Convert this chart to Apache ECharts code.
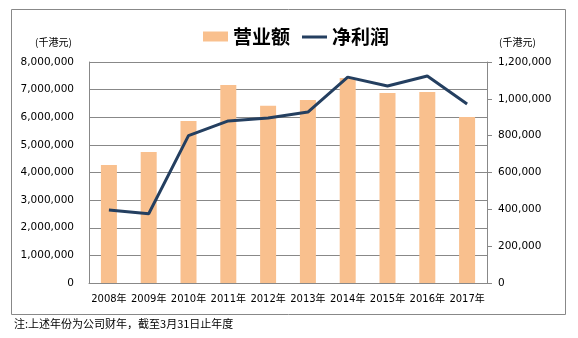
<!DOCTYPE html>
<html><head><meta charset="utf-8">
<script src="https://cdn.jsdelivr.net/npm/echarts@6/dist/echarts.min.js"></script>
<style>html,body{margin:0;padding:0;background:#fff}#c{width:578px;height:338px}</style>
</head><body><div id="c"></div>
<script>
var categories = ['2008年','2009年','2010年','2011年','2012年','2013年','2014年','2015年','2016年','2017年'];
var revenue = [4270000, 4740000, 5860000, 7170000, 6420000, 6620000, 7420000, 6880000, 6910000, 6010000];
var profit = [396000, 376000, 800000, 880000, 896000, 928000, 1118000, 1070000, 1124000, 972000];
var revenueName = '营业额';
var profitName = '净利润';
var unitLabel = '(千港元)';
var footnote = '注:上述年份为公司财年，截至3月31日止年度';

var font = '"DejaVu Sans", "Noto Sans CJK SC", sans-serif';
var chart = echarts.init(document.getElementById('c'), null, {renderer:'canvas'});
function fmt(v){ return v.toLocaleString('en-US'); }
chart.setOption({
  animation:false,
  backgroundColor:'#fff',
  grid:{left:89, right:91, top:62, bottom:55, containLabel:false},
  legend:{
    left:198, top:22, itemWidth:25, itemHeight:10, itemGap:12,
    textStyle:{fontFamily:'"Noto Sans CJK SC", sans-serif', fontSize:19, fontWeight:'bold', color:'#000'},
    data:[{name:revenueName, icon:'rect'},
          {name:profitName, icon:'path://M0,0 L0.01,0 L0.01,0.01 Z M0,4 L25,4 L25,7 L0,7 Z M24.99,10 L25,10 L25,9.99 Z'}]
  },
  xAxis:{
    type:'category', data:categories,
    axisLine:{lineStyle:{color:'#888', width:1}},
    axisTick:{show:false},
    axisLabel:{fontFamily:font, fontSize:10, color:'#000', margin:11, interval:0}
  },
  yAxis:[{
    type:'value', min:0, max:8000000, interval:1000000,
    axisLine:{show:true, lineStyle:{color:'#888'}},
    axisTick:{show:false},
    splitLine:{lineStyle:{color:'#888', width:1}},
    axisLabel:{fontFamily:font, fontSize:10.5, color:'#000', margin:15, formatter:fmt}
  },{
    type:'value', min:0, max:1200000, interval:200000, position:'right',
    axisLine:{show:true, lineStyle:{color:'#888'}},
    axisTick:{show:true, inside:false, length:5, lineStyle:{color:'#888'}},
    splitLine:{show:false},
    axisLabel:{fontFamily:font, fontSize:10.5, color:'#000', margin:11, formatter:fmt}
  }],
  series:[{
    name:revenueName, type:'bar', data:revenue, yAxisIndex:0, barWidth:16,
    itemStyle:{color:'#F9C08E'}
  },{
    name:profitName, type:'line', data:profit, yAxisIndex:1, symbol:'none',
    lineStyle:{color:'#243F60', width:3}, itemStyle:{color:'#243F60'}
  }],
  graphic:[
    {type:'rect', shape:{x:11.5, y:9.5, width:554, height:305}, style:{fill:'none', stroke:'#888', lineWidth:1}, silent:true, z:-1},
    {type:'text', left:35, top:37, style:{text:unitLabel, font:'10px "Noto Sans CJK SC", sans-serif', fill:'#000'}},
    {type:'text', left:499, top:37, style:{text:unitLabel, font:'10px "Noto Sans CJK SC", sans-serif', fill:'#000'}},
    {type:'text', left:14, top:318, style:{text:footnote, font:'11px "Noto Sans CJK SC", sans-serif', fill:'#000'}}
  ]
});
</script></body></html>
